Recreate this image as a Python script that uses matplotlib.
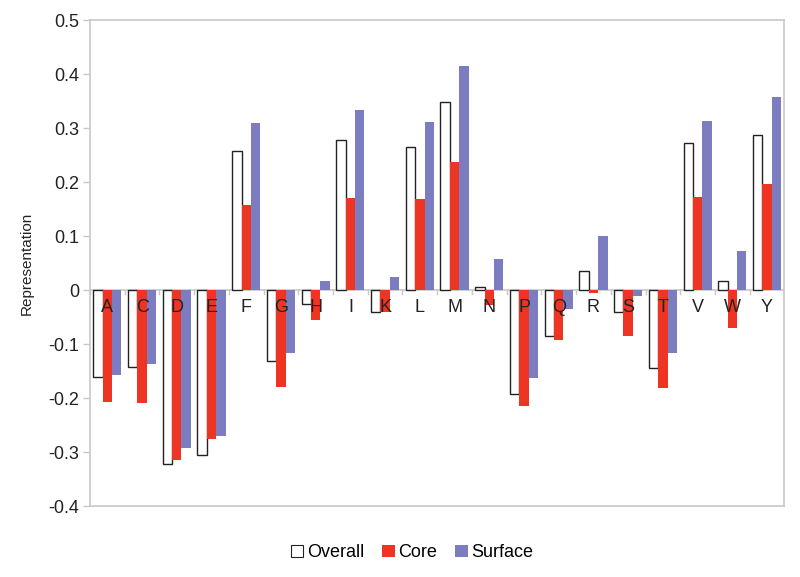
import matplotlib.pyplot as plt
import numpy as np
from matplotlib.patches import Patch

plt.rcParams["font.family"] = ["Liberation Sans", "DejaVu Sans"]

residues = ["A", "C", "D", "E", "F", "G", "H", "I", "K", "L",
            "M", "N", "P", "Q", "R", "S", "T", "V", "W", "Y"]
overall = [-0.161, -0.143, -0.322, -0.306, 0.257, -0.132, -0.025, 0.278, -0.040, 0.266,
           0.348, 0.006, -0.193, -0.085, 0.036, -0.040, -0.145, 0.272, 0.016, 0.288]
core = [-0.208, -0.210, -0.315, -0.275, 0.157, -0.179, -0.056, 0.170, -0.040, 0.169,
        0.237, -0.027, -0.215, -0.092, -0.005, -0.085, -0.182, 0.173, -0.070, 0.196]
surface = [-0.158, -0.136, -0.293, -0.270, 0.310, -0.117, 0.016, 0.333, 0.024, 0.311,
           0.415, 0.057, -0.163, -0.035, 0.101, -0.010, -0.117, 0.313, 0.072, 0.357]
yticks = [-0.4, -0.3, -0.2, -0.1, 0, 0.1, 0.2, 0.3, 0.4, 0.5]
ytick_labels = ["-0.4", "-0.3", "-0.2", "-0.1", "0", "0.1", "0.2", "0.3", "0.4", "0.5"]

RED = "#ee3524"
BLUE = "#7b7dc0"
GRAY = "#c8c8c8"
TEXT = "#222222"

fig = plt.figure(figsize=(8, 5.77), dpi=100)
ax = fig.add_axes([0.1125, 0.123, 0.868, 0.842])

x = np.arange(len(residues))
w = 0.27
ax.bar(x - w, overall, w, color="white", edgecolor=TEXT, linewidth=1.0, zorder=3)
ax.bar(x, core, w, color=RED, linewidth=0, zorder=3)
ax.bar(x + w, surface, w, color=BLUE, linewidth=0, zorder=3)

# zero line with small category ticks
ax.axhline(0, color=GRAY, linewidth=1.2, zorder=2)
for b in np.arange(len(residues) + 1) - 0.5:
    ax.plot([b, b], [0, -0.008], color=GRAY, linewidth=1.0, zorder=2)

for xi, lab in zip(x, residues):
    ax.text(xi, -0.033, lab, ha="center", va="center", fontsize=13, color=TEXT, zorder=4)

ax.set_xlim(-0.5, len(residues) - 0.5)
ax.set_ylim(-0.4, 0.5)
ax.set_xticks([])
ax.set_yticks(yticks)
ax.set_yticklabels(ytick_labels, fontsize=13, color=TEXT)
ax.tick_params(axis="y", length=5, color=GRAY, width=1.0, pad=3)
for sp in ax.spines.values():
    sp.set_color(GRAY)
    sp.set_linewidth(1.2)

ax.set_ylabel("Representation", fontsize=11, color=TEXT, labelpad=10)

handles = [Patch(facecolor="white", edgecolor=TEXT, linewidth=0.8),
           Patch(facecolor=RED), Patch(facecolor=BLUE)]
fig.legend(handles, ["Overall", "Core", "Surface"], loc="center",
           bbox_to_anchor=(0.515, 0.042), ncol=3, frameon=False, fontsize=13,
           handlelength=0.7, handleheight=0.7, handletextpad=0.2, columnspacing=1.0)

fig.savefig("out.png", dpi=100)
